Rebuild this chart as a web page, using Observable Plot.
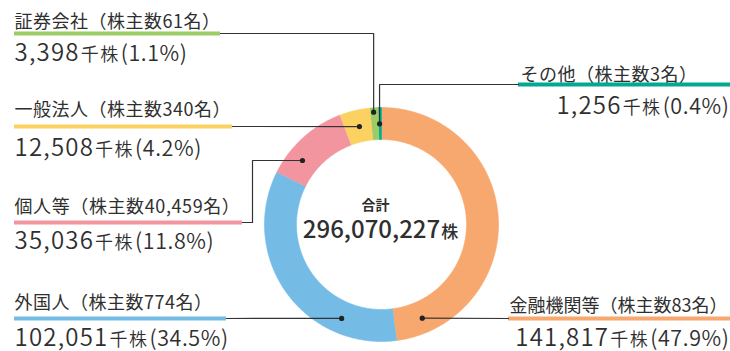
<!DOCTYPE html>
<html>
<head>
<meta charset="utf-8">
<script src="https://cdn.jsdelivr.net/npm/d3@7"></script>
<script src="https://cdn.jsdelivr.net/npm/@observablehq/plot@0.6"></script>
<style>
  html, body { margin: 0; padding: 0; background: #fff; }
  #chart { width: 730px; height: 351px; }
</style>
</head>
<body>
<div id="chart"></div>
<script>
// ---- data ----
const categories = ["金融機関等", "外国人", "個人等", "一般法人", "証券会社", "その他"];
const shares = [141817, 102051, 35036, 12508, 3398, 1256];   // 千株
const holders = [83, 774, 40459, 340, 61, 3];                 // 株主数 (名)
const percents = [47.9, 34.5, 11.8, 4.2, 1.1, 0.4];           // %
const colors = ["#F7A86E", "#74BCE6", "#F2959E", "#FBD262", "#9CCD65", "#00A98F"];
const totalLabel = "合計";
const totalShares = 296070227;

// ---- layout (pixel space) ----
const W = 730, H = 351;
const cx = 381, cy = 224, R = 117, r = 85;
const layout = {
  "金融機関等": {ux: [508, 730], uy: 318, tx: 509, ty: 311, vx: 729, vy: 345, va: "end", ang: 156.5, rad: 102.2, elbow: [], ls: 0},
  "外国人":     {ux: [14, 226], uy: 318, tx: 14, ty: 308.5, vx: 14, vy: 345, va: "start", ang: 203, rad: 102, elbow: [], ls: 0.5},
  "個人等":     {ux: [14, 242], uy: 222, tx: 14, ty: 212.5, vx: 14, vy: 248, va: "start", ang: 309, rad: 101.7, elbow: [[252, 222], [252, null]], ls: 0.6},
  "一般法人":   {ux: [14, 232], uy: 126, tx: 14, ty: 115.5, vx: 14, vy: 155, va: "start", ang: 347.3, rad: 100.4, elbow: [], ls: 0.5},
  "証券会社":   {ux: [14, 220], uy: 33, tx: 14, ty: 27.5, vx: 14, vy: 60.5, va: "start", ang: 356, rad: 112.6, elbow: [[null, 33]], ls: 0.5},
  "その他":     {ux: [518, 730], uy: 84, tx: 520, ty: 80, vx: 729, vy: 113.5, va: "end", ang: 358.9, rad: 100.7, elbow: [[null, 84]], ls: 0.5}
};

const fmt = d3.format(",");
const pie = d3.pie().sort(null).startAngle(0).endAngle(2 * Math.PI)(shares);
const polar = (a, rad) => [cx + rad * Math.sin(a), cy - rad * Math.cos(a)];

const sliceMarks = pie.map((p, i) => {
  const pts = [];
  const n = Math.max(4, Math.ceil((p.endAngle - p.startAngle) / (Math.PI / 180)) * 2);
  for (let k = 0; k <= n; k++) {
    const a = p.startAngle + (p.endAngle - p.startAngle) * k / n;
    const [x, y] = polar(a, R); pts.push({x, y});
  }
  for (let k = n; k >= 0; k--) {
    const a = p.startAngle + (p.endAngle - p.startAngle) * k / n;
    const [x, y] = polar(a, r); pts.push({x, y});
  }
  return Plot.line(pts, {x: "x", y: "y", fill: colors[i], stroke: colors[i], strokeWidth: 0.6});
});

const leaderPts = [], dots = [], underlines = [], titles = [], values = [];
categories.forEach((c, i) => {
  const L = layout[c];
  const [dx, dy] = polar(L.ang * Math.PI / 180, L.rad);
  dots.push({x: dx, y: dy});
  const left = L.ux[0] < cx;
  const start = left ? [L.ux[1], L.uy] : [L.ux[0], L.uy];
  const path = [start];
  L.elbow.forEach(([ex, ey]) => path.push([ex === null ? dx : ex, ey === null ? dy : ey]));
  path.push([dx, dy]);
  path.forEach(([x, y]) => leaderPts.push({cat: c, x, y}));
  underlines.push({cat: c, x1: L.ux[0], x2: L.ux[1], y: L.uy, color: colors[i]});
  titles.push({x: L.tx, y: L.ty, ls: L.ls, text: `${c}（株主数${fmt(holders[i])}名）`});
  values.push({x: L.vx, y: L.vy, anchor: L.va, text: `${fmt(shares[i])}千株(${percents[i].toFixed(1)}%)`});
});

const textColor = "#2f2f2f";
const chart = Plot.plot({
  width: W, height: H,
  marginTop: 0, marginRight: 0, marginBottom: 0, marginLeft: 0,
  x: {domain: [0, W], axis: null},
  y: {domain: [H, 0], axis: null},
  style: {fontFamily: "'Noto Sans CJK JP', 'Noto Sans', sans-serif", background: "#fff", color: textColor},
  marks: [
    ...sliceMarks,
    Plot.ruleY(underlines, {x1: "x1", x2: "x2", y: "y", stroke: "color", strokeWidth: 4}),
    Plot.line(leaderPts, {x: "x", y: "y", z: "cat", stroke: "#333", strokeWidth: 1.2}),
    Plot.dot(dots, {x: "x", y: "y", r: 2.6, fill: "#222", stroke: "none"}),
    Plot.text(titles, {x: "x", y: "y", text: "text", textAnchor: "start", lineAnchor: "bottom", fontSize: 18, fill: textColor}),
    Plot.text(values.filter(d => d.anchor === "start"), {x: "x", y: "y", text: "text", textAnchor: "start", lineAnchor: "bottom", fontSize: 24, fontWeight: 350, fill: textColor}),
    Plot.text(values.filter(d => d.anchor === "end"), {x: "x", y: "y", text: "text", textAnchor: "end", lineAnchor: "bottom", fontSize: 24, fontWeight: 350, fill: textColor}),
    Plot.text([{x: 375, y: 209, t: totalLabel}], {x: "x", y: "y", text: "t", lineAnchor: "bottom", fontSize: 14, fontWeight: 700, fill: textColor}),
    Plot.text([{x: 380, y: 237.5, t: fmt(totalShares) + "株"}], {x: "x", y: "y", text: "t", lineAnchor: "bottom", fontSize: 24, fontWeight: 500, fill: textColor})
  ]
});

// titles: slight tracking (per layout)
chart.querySelectorAll("text").forEach(t => {
  const s = t.textContent;
  const d = titles.find(d => d.text === s);
  if (d && d.ls) t.setAttribute("letter-spacing", d.ls);
});

// split numeric / unit / percent runs into differently sized tspans
chart.querySelectorAll("text").forEach(t => {
  const s = t.textContent;
  const m = s.match(/^([\d,]+)(千株|株)(.*)$/);
  if (!m) return;
  const isTotal = m[2] === "株";
  t.textContent = "";
  const add = (str, size, dx, ls) => {
    if (!str) return;
    const ts = document.createElementNS("http://www.w3.org/2000/svg", "tspan");
    ts.textContent = str;
    ts.setAttribute("font-size", size);
    if (dx) ts.setAttribute("dx", dx);
    if (ls) ts.setAttribute("letter-spacing", ls);
    t.appendChild(ts);
  };
  if (isTotal) {
    add(m[1], 24, 0, 0);
    add(m[2], 17, 1, 0);
  } else {
    add(m[1], 24, 0, 1.2);
    add(m[2], 18, 1, 1.5);
    add(m[3], 21.5, 1, 0.6);
  }
});

document.getElementById("chart").appendChild(chart);
</script>
</body>
</html>
